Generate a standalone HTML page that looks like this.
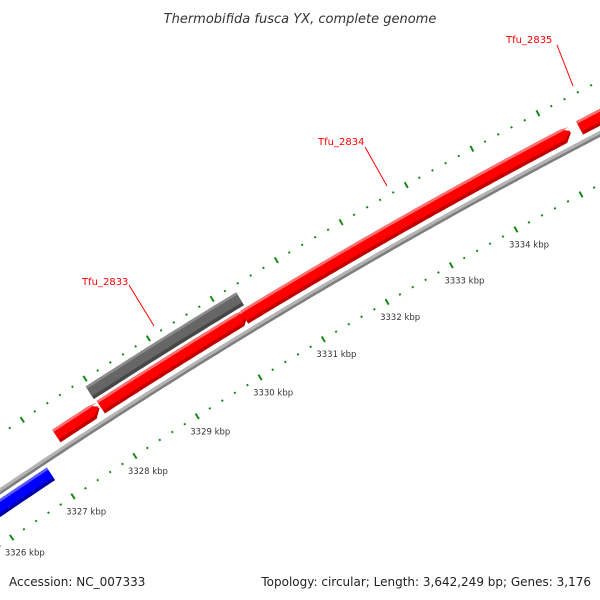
<!DOCTYPE html>
<html><head><meta charset="utf-8"><style>
html,body{margin:0;padding:0;background:#fff;width:600px;height:600px;overflow:hidden;}
svg{display:block;font-family:"DejaVu Sans","Liberation Sans",sans-serif;}
</style></head><body>
<svg id="map" width="600" height="600" viewBox="0 0 600 600" xmlns="http://www.w3.org/2000/svg">
<rect width="600" height="600" fill="#fff"/>
<text x="300" y="23" text-anchor="middle" font-size="13" font-style="italic" fill="#333">Thermobifida fusca YX, complete genome</text>
<g id="ticks"></g>
<g id="backbone"></g>
<g id="genes"></g>
<g id="labels"></g>
<text x="9" y="586" font-size="12" fill="#222">Accession: NC_007333</text>
<text x="591" y="586" text-anchor="end" font-size="12" fill="#222">Topology: circular; Length: 3,642,249 bp; Genes: 3,176</text>
</svg>
<script>
const tickLabelsKbp = [3326,3327,3328,3329,3330,3331,3332,3333,3334];
const geneNames = ["Tfu_2832","Tfu_2833a","Tfu_2833","Tfu_2833b","Tfu_2834","Tfu_2835"];
const geneStart = [3324.5, 3327.26, 3327.97, 3327.95, 3330.24, 3335.40];
const geneEnd   = [3326.92, 3327.95, 3330.29, 3330.32, 3335.27, 3337.5];
const geneStrand = [-1, 1, 1, 0, 1, 1];
const geneTrack = ["reverse","forward","forward","other","forward","forward"];
const labelText = ["Tfu_2833","Tfu_2834","Tfu_2835"];

const NS="http://www.w3.org/2000/svg";
const CX=3418, CY=5546, R0=6057, TH0=-124.22*Math.PI/180, DTH=0.699*Math.PI/180;
function pt(kbp,r){const t=TH0+(kbp-3326)*DTH;return [CX+r*Math.cos(t),CY+r*Math.sin(t)];}
function mk(tag,attrs,parent){const e=document.createElementNS(NS,tag);for(const k in attrs)e.setAttribute(k,attrs[k]);parent.appendChild(e);return e;}
const gT=document.getElementById('ticks'),gB=document.getElementById('backbone'),gG=document.getElementById('genes'),gL=document.getElementById('labels');

[R0, R0+92].forEach((rr,ri)=>{
  for(let i=3321*5;i<=3340*5;i++){
    const k=i/5, major=(i%5===0);
    const h=major?3.2:1;
    const a=pt(k,rr-h),b=pt(k,rr+h);
    const l=mk('line',{x1:a[0],y1:a[1],x2:b[0],y2:b[1],stroke:'#168a16','stroke-width':2},gT);
    
    
  }
});
tickLabelsKbp.forEach(k=>{
  const p=pt(k,R0);
  const t=mk('text',{x:p[0]-7,y:p[1]+18,'font-size':8.5,fill:'#333'},gL);
  t.textContent=k+' kbp';
  
  
});

function band(k1,k2,r1,r2,fill,parent,name,tipDir){
  const pts=[];const steps=Math.max(2,Math.ceil((k2-k1)/0.05));
  const tip=0.11;
  let e1=k1,e2=k2;
  if(tipDir===1)e2=k2-tip; if(tipDir===-1)e1=k1+tip;
  for(let i=0;i<=steps;i++){pts.push(pt(e1+(e2-e1)*i/steps,r2));}
  if(tipDir===1)pts.push(pt(k2,(r1+r2)/2));
  for(let i=steps;i>=0;i--){pts.push(pt(e1+(e2-e1)*i/steps,r1));}
  if(tipDir===-1)pts.push(pt(k1,(r1+r2)/2));
  const p=mk('polygon',{points:pts.map(q=>q[0].toFixed(1)+','+q[1].toFixed(1)).join(' '),fill:fill},parent);
  
  
  return p;
}
const RB=R0+45;
band(3321,3340,RB-3,RB+2.5,'#7e7e7e',gB,'backbone-shadow',0);
band(3321,3340,RB-0.5,RB+2.5,'#b4b4b4',gB,'backbone',0);

const trackR={forward:R0+59.5,other:R0+77.5,reverse:R0+31};
const colors={forward:['#c00000','#ff0000','#ff7070'],other:['#474747','#666666','#8c8c8c'],reverse:['#0000a8','#0000ff','#5a5aff']};
geneStart.forEach((s,i)=>{
  const tr=geneTrack[i],rc=trackR[tr],c=colors[tr],h=7.5;
  const g=mk('g',{},gG);
  
  
  const d=geneStrand[i];
  band(s,geneEnd[i],rc-h,rc+h,c[0],g,'gene-body',d);
  band(s,geneEnd[i],rc-h+3.5,rc+h,c[1],g,'gene-face',d);
  band(s,geneEnd[i],rc+h-2.5,rc+h,c[2],g,'gene-highlight',d);
});
const lab=[[82,285,129,285,154,326],[318,145,365,147,387,186],[506,43,557,45,573,86]];
lab.forEach((L,i)=>{
  const t=mk('text',{x:L[0],y:L[1],'font-size':10,fill:'#f00'},gL);
  t.textContent=labelText[i];
  
  
  const l=mk('line',{x1:L[2],y1:L[3],x2:L[4],y2:L[5],stroke:'#f00','stroke-width':1},gL);
  
  
});
</script>
</body></html>
